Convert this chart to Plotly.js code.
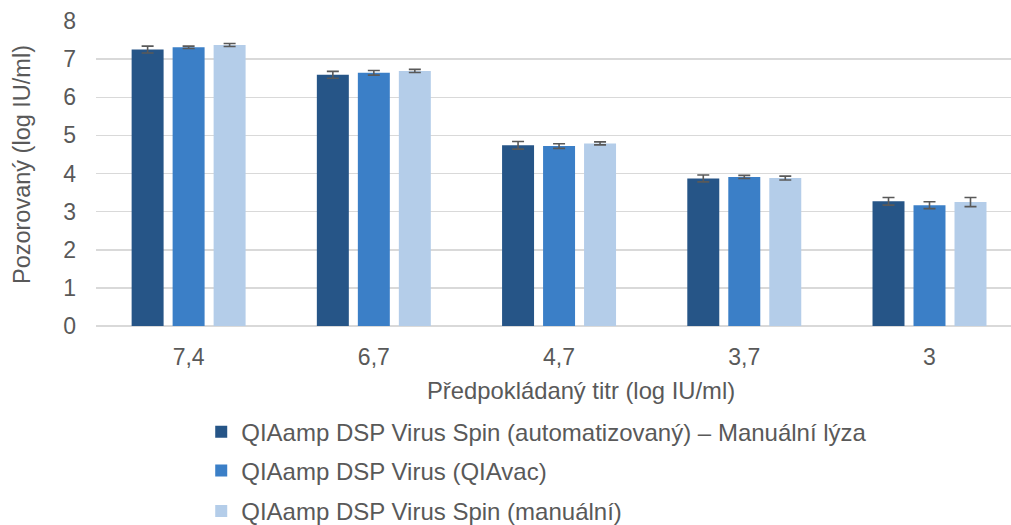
<!DOCTYPE html>
<html>
<head>
<meta charset="utf-8">
<script src="https://cdn.plot.ly/plotly-3.0.1.min.js"></script>
<style>body{margin:0;padding:0;background:#fff}#chart{width:1011px;height:525px}</style>
</head>
<body>
<div id="chart"></div>
<script>
var categories = ["7,4", "6,7", "4,7", "3,7", "3"];
var seriesNames = [
  "QIAamp DSP Virus Spin (automatizovaný) – Manuální lýza",
  "QIAamp DSP Virus (QIAvac)",
  "QIAamp DSP Virus Spin (manuální)"
];
var automatedValues = [7.25, 6.59, 4.74, 3.87, 3.27];
var automatedErrors = [0.09, 0.09, 0.10, 0.09, 0.10];
var qiavacValues = [7.31, 6.64, 4.72, 3.91, 3.17];
var qiavacErrors = [0.03, 0.06, 0.06, 0.04, 0.09];
var manualValues = [7.37, 6.69, 4.79, 3.88, 3.25];
var manualErrors = [0.04, 0.04, 0.04, 0.05, 0.12];
var yTicks = [0, 1, 2, 3, 4, 5, 6, 7, 8];
var xTitle = "Předpokládaný titr (log IU/ml)";
var yTitle = "Pozorovaný (log IU/ml)";

var colors = ["#265587", "#3b7fc7", "#b4cde9"];
var values = [automatedValues, qiavacValues, manualValues];
var errors = [automatedErrors, qiavacErrors, manualErrors];
var legendIds = ["legend", "legend2", "legend3"];

var traces = values.map(function (v, i) {
  return {
    type: "bar",
    name: seriesNames[i],
    x: categories,
    y: v,
    marker: {color: colors[i], line: {width: 0}},
    error_y: {type: "data", array: errors[i], visible: true, color: "#595959", thickness: 1.6, width: 6},
    legend: legendIds[i],
    hoverinfo: "x+y+name"
  };
});

var fam = "Liberation Sans, Arial, sans-serif";
var grey = "#595959";
function lg(y) {
  return {x: 0.115, xanchor: "left", y: y, yanchor: "middle", orientation: "v",
    font: {family: fam, color: grey, size: 24}, bgcolor: "rgba(0,0,0,0)",
    borderwidth: 0, itemclick: false, itemdoubleclick: false};
}

var layout = {
  width: 1011, height: 525,
  margin: {l: 96, r: 0, t: 21, b: 199, autoexpand: false},
  paper_bgcolor: "#ffffff", plot_bgcolor: "#ffffff",
  font: {family: fam, color: grey, size: 23},
  barmode: "group",
  bargap: 0.336,
  bargroupgap: 0.22,
  showlegend: true,
  xaxis: {
    type: "category",
    automargin: false,
    range: [-0.5, 4.44],
    showgrid: false, zeroline: false, showline: false, ticks: "",
    tickfont: {family: fam, color: grey, size: 23},
    ticklabelstandoff: 15
  },
  yaxis: {
    automargin: false,
    range: [0, 8],
    tickvals: yTicks,
    ticktext: yTicks.map(String),
    showgrid: true, gridcolor: "#d9d9d9", gridwidth: 1.5,
    zeroline: true, zerolinecolor: "#d9d9d9", zerolinewidth: 1.5,
    showline: false, ticks: "",
    tickfont: {family: fam, color: grey, size: 23},
    ticklabelstandoff: 19
  },
  annotations: [
    {text: xTitle, xref: "paper", yref: "paper", x: 0.530, y: -0.213,
      xanchor: "center", yanchor: "middle", showarrow: false,
      font: {family: fam, color: grey, size: 23.8}},
    {text: yTitle, xref: "paper", yref: "paper", x: -0.0809, y: 0.531,
      xanchor: "center", yanchor: "middle", showarrow: false, textangle: -90,
      font: {family: fam, color: grey, size: 23.5}}
  ],
  legend: lg(-0.348),
  legend2: lg(-0.475),
  legend3: lg(-0.608)
};

Plotly.newPlot("chart", traces, layout, {displayModeBar: false, staticPlot: true});
</script>
</body>
</html>
